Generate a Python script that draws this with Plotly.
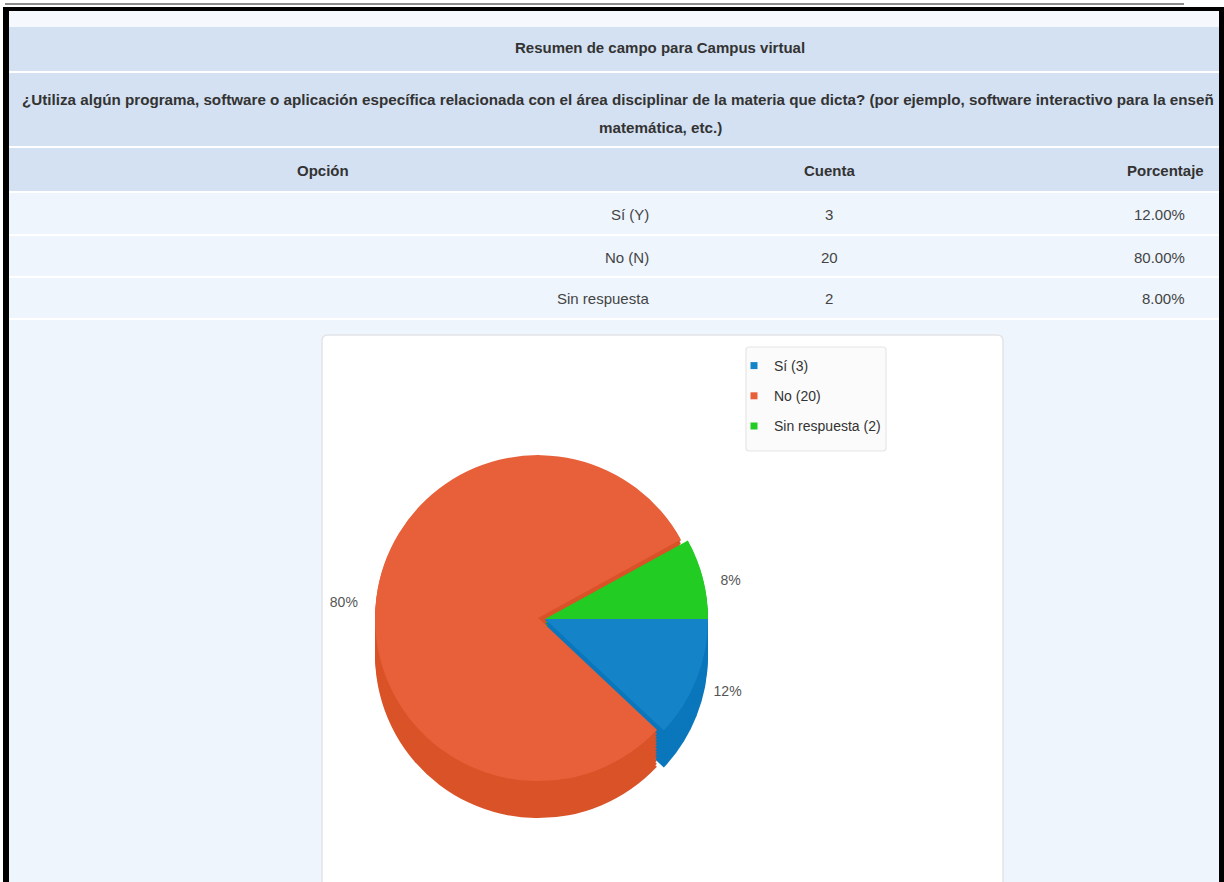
import plotly.graph_objects as go

W, H = 1224, 882

# ---------------- data ----------------
opciones = ["Sí (Y)", "No (N)", "Sin respuesta"]
nombres = ["Sí", "No", "Sin respuesta"]
cuentas = [3, 20, 2]
colores = ["#1483C8", "#E8603A", "#22CC22"]
colores_lado = ["#0A76BC", "#DA5328", "#17BC17"]
titulo = "Resumen de campo para Campus virtual"
pregunta_1 = ("¿Utiliza algún programa, software o aplicación específica relacionada con el área "
              "disciplinar de la materia que dicta? (por ejemplo, software interactivo para la enseñ")
pregunta_2 = "matemática, etc.)"
encabezados = ["Opción", "Cuenta", "Porcentaje"]

total = sum(cuentas)
porcentajes = [f"{100 * c / total:.2f}%" for c in cuentas]
leyenda = [f"{n} ({c})" for n, c in zip(nombres, cuentas)]

FONT = "Liberation Sans, Arial, sans-serif"


def X(p):
    return p / W


def Y(p):
    return 1 - p / H


shapes = []


def rect(x0, y0, x1, y1, color, line=None):
    shapes.append(dict(type="rect", xref="paper", yref="paper",
                       x0=X(x0), x1=X(x1), y0=Y(y1), y1=Y(y0),
                       fillcolor=color, line=line or dict(width=0), layer="below"))


# top thin grey rule
shapes.append(dict(type="line", xref="paper", yref="paper", x0=X(5), x1=X(1184),
                   y0=Y(4), y1=Y(4), line=dict(color="#8C8C8C", width=2), layer="below"))
# black frame
rect(3, 7, 1224, 900, "#000000")
# content background
rect(9, 11, 1219, 900, "#EEF5FD")
rect(9, 11, 1219, 27, "#F5F8FC")
HEAD = "#D4E1F2"
rect(9, 27, 1219, 71, HEAD)
rect(9, 73, 1219, 146, HEAD)
rect(9, 148, 1219, 191, HEAD)
for y in (71, 146, 191, 234, 276, 318):
    rect(9, y, 1219, y + 2, "#FFFFFF")

# chart card with rounded top corners
cx0, cy0, cx1, cy1, rr = 322, 335, 1003, 900, 6
card_path = (f"M {X(cx0)},{Y(cy1)} L {X(cx0)},{Y(cy0 + rr)} Q {X(cx0)},{Y(cy0)} {X(cx0 + rr)},{Y(cy0)} "
             f"L {X(cx1 - rr)},{Y(cy0)} Q {X(cx1)},{Y(cy0)} {X(cx1)},{Y(cy0 + rr)} L {X(cx1)},{Y(cy1)} Z")
shapes.append(dict(type="path", xref="paper", yref="paper", path=card_path,
                   fillcolor="#FFFFFF", line=dict(color="#E2E4E8", width=1.5), layer="below"))

# legend box
lb_path = (f"M {X(749)},{Y(347)} L {X(883)},{Y(347)} Q {X(886)},{Y(347)} {X(886)},{Y(350)} "
           f"L {X(886)},{Y(448)} Q {X(886)},{Y(451)} {X(883)},{Y(451)} L {X(749)},{Y(451)} "
           f"Q {X(746)},{Y(451)} {X(746)},{Y(448)} L {X(746)},{Y(350)} Q {X(746)},{Y(347)} {X(749)},{Y(347)} Z")
shapes.append(dict(type="path", xref="paper", yref="paper", path=lb_path,
                   fillcolor="#FBFBFB", line=dict(color="#E6E6E6", width=1.2), layer="below"))

# ---------------- annotations (table text) ----------------
ann = []


def txt(text, x, y, anchor="center", size=15, bold=False, color="#333333"):
    ann.append(dict(text=text, x=X(x), y=Y(y), xref="paper", yref="paper",
                    xanchor=anchor, yanchor="middle", showarrow=False,
                    font=dict(family=FONT, size=size, color=color,
                              weight="bold" if bold else "normal")))


txt(titulo, 660, 48, bold=True)
txt(pregunta_1, 20, 100, anchor="left", bold=True, size=15.2)
txt(pregunta_2, 660, 127, bold=True, size=15.2)
txt(encabezados[0], 323, 170, bold=True)
txt(encabezados[1], 829, 170, bold=True)
txt(encabezados[2], 1206, 170, anchor="right", bold=True)
row_y = [214, 257, 298]
for o, c, p, y in zip(opciones, cuentas, porcentajes, row_y):
    txt(o, 651, y, anchor="right", color="#444444")
    txt(str(c), 829, y, color="#444444")
    txt(p, 1187, y, anchor="right", color="#444444")

# ---------------- 3D-looking pie ----------------
fig = go.Figure()

pcx, pcy, rad = 545, 619, 163
gap = 7
pull_no = gap / rad
pulls = [0, pull_no, 0]
depth = 37


def dom(dy, r=rad):
    half = r * (1 + pull_no)
    return dict(x=[X(pcx - half), X(pcx + half)],
                y=[Y(pcy + dy + half), Y(pcy + dy - half)])


for d in range(depth, 0, -3):
    fig.add_trace(go.Pie(labels=nombres, values=cuentas, sort=False, direction="clockwise",
                         rotation=90, pull=pulls, domain=dom(d), textinfo="none",
                         hoverinfo="skip", showlegend=False,
                         marker=dict(colors=colores_lado, line=dict(width=0))))

fig.add_trace(go.Pie(labels=nombres, values=cuentas, sort=False, direction="clockwise",
                     rotation=90, pull=pulls, domain=dom(0), textinfo="none",
                     showlegend=False,
                     marker=dict(colors=colores, line=dict(width=0))))

# percentage labels, placed a little outside the top face
fig.add_trace(go.Pie(labels=nombres, values=cuentas, sort=False, direction="clockwise",
                     rotation=90, pull=pulls, domain=dom(6, rad + 14),
                     texttemplate="%{percent:.0%}", textposition="outside",
                     textfont=dict(family=FONT, size=14, color="#555555"),
                     showlegend=False, hoverinfo="skip",
                     marker=dict(colors=["rgba(0,0,0,0)"] * 3, line=dict(width=0))))

# legend entries (one per category)
for lab, col in zip(leyenda, colores):
    fig.add_trace(go.Scatter(x=[None], y=[None], mode="markers", name=lab, legendgroup=lab,
                             marker=dict(symbol="square", size=7, color=col)))

fig.update_layout(
    width=W, height=H,
    margin=dict(l=0, r=0, t=0, b=0),
    paper_bgcolor="#FFFFFF", plot_bgcolor="rgba(0,0,0,0)",
    xaxis=dict(visible=False), yaxis=dict(visible=False),
    shapes=shapes, annotations=ann,
    legend=dict(x=X(734), y=Y(350), xanchor="left", yanchor="top",
                bgcolor="rgba(0,0,0,0)", borderwidth=0,
                font=dict(family=FONT, size=14, color="#333333"),
                traceorder="grouped", tracegroupgap=9, itemwidth=30),
)

fig.write_html("out.html", config={"displayModeBar": False},
               post_script="document.body.style.margin='0';")
